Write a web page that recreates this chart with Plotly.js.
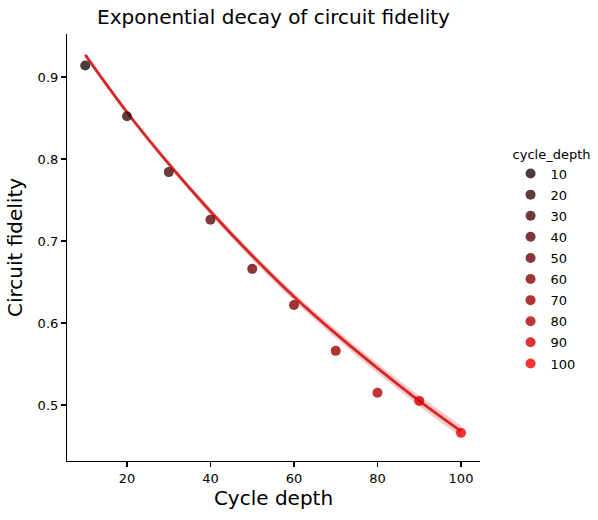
<!DOCTYPE html>
<html>
<head>
<meta charset="utf-8">
<script src="https://cdn.plot.ly/plotly-3.0.1.min.js"></script>
<style>html,body{margin:0;padding:0;background:#fff;}#chart{width:598px;height:520px;}</style>
</head>
<body>
<div id="chart"></div>
<script>
// Measured circuit fidelity at each cycle depth
const cycleDepth = [10, 20, 30, 40, 50, 60, 70, 80, 90, 100];
const fidelity = [0.914, 0.852, 0.784, 0.726, 0.666, 0.622, 0.566, 0.515, 0.505, 0.466];
// Fitted exponential-decay curve at each depth
const fitValues = [0.927, 0.857, 0.794, 0.736, 0.682, 0.632, 0.587, 0.545, 0.505, 0.468];
// Confidence band half-width around the fit
const fitHalfWidth = [0.002, 0.003, 0.0035, 0.004, 0.0045, 0.005, 0.0055, 0.006, 0.0065, 0.007];
// Legend labels
const legendLabels = ["10", "20", "30", "40", "50", "60", "70", "80", "90", "100"];
const pointColors = ["#1e0b0e", "#380b0e", "#4c090b", "#5f0609", "#720104", "#880001", "#9e0000", "#b50000", "#d80000", "#f20000"];

const lower = fitValues.map((v, i) => v - fitHalfWidth[i]);
const upper = fitValues.map((v, i) => v + fitHalfWidth[i]);

const traces = [];
traces.push({x: cycleDepth, y: lower, mode: 'lines', line: {width: 0, shape: 'spline', color: 'rgba(0,0,0,0)'}, showlegend: false, hoverinfo: 'skip'});
traces.push({x: cycleDepth, y: upper, mode: 'lines', fill: 'tonexty', fillcolor: 'rgba(214,39,40,0.25)', line: {width: 0, shape: 'spline', color: 'rgba(0,0,0,0)'}, showlegend: false, hoverinfo: 'skip'});
traces.push({x: cycleDepth, y: fitValues, mode: 'lines', line: {width: 2.8, shape: 'spline', color: '#d62728'}, showlegend: false});
cycleDepth.forEach((d, i) => {
  traces.push({x: [d], y: [fidelity[i]], mode: 'markers', name: legendLabels[i], legendgroup: 'g' + i,
    marker: {size: 10, color: pointColors[i], opacity: 0.8}});
});

const font = {family: 'DejaVu Sans, sans-serif', color: '#000'};
const layout = {
  width: 598, height: 520, autosize: false,
  margin: {l: 67, r: 118, t: 34, b: 59, pad: 0, autoexpand: false},
  paper_bgcolor: '#fff', plot_bgcolor: '#fff',
  font: font,
  title: {text: 'Exponential decay of circuit fidelity', font: {family: font.family, size: 20, color: '#000'},
    x: 0.5, xref: 'paper', xanchor: 'center', y: 1, yref: 'container', yanchor: 'top', pad: {t: 10}},
  xaxis: {range: [5.63, 104.55], tickvals: [20, 40, 60, 80, 100], ticktext: ['20', '40', '60', '80', '100'],
    showgrid: false, zeroline: false, showline: true, linecolor: '#000', linewidth: 1.1,
    ticks: 'outside', ticklen: 5, tickwidth: 1.1, tickcolor: '#000', tickfont: {size: 13, color: '#000'},
    title: {text: 'Cycle depth', font: {size: 20, color: '#000'}, standoff: 6}, automargin: false},
  yaxis: {range: [0.4317, 0.9524], tickvals: [0.5, 0.6, 0.7, 0.8, 0.9], ticktext: ['0.5', '0.6', '0.7', '0.8', '0.9'],
    showgrid: false, zeroline: false, showline: true, linecolor: '#000', linewidth: 1.1,
    ticks: 'outside', ticklen: 5, tickwidth: 1.1, tickcolor: '#000', tickfont: {size: 13, color: '#000'},
    title: {text: 'Circuit fidelity', font: {size: 20, color: '#000'}, standoff: 9}, automargin: false},
  legend: {x: 1.074, xanchor: 'left', y: 0.4703, yanchor: 'middle', bgcolor: 'rgba(0,0,0,0)',
    traceorder: 'grouped',
    title: {text: 'cycle_depth', side: 'top center', font: {size: 13, color: '#000'}}, font: {size: 13, color: '#000'},
    tracegroupgap: 1.2, itemsizing: 'trace', itemwidth: 30},
  showlegend: true
};
Plotly.newPlot('chart', traces, layout, {displayModeBar: false, staticPlot: true});
</script>
</body>
</html>
